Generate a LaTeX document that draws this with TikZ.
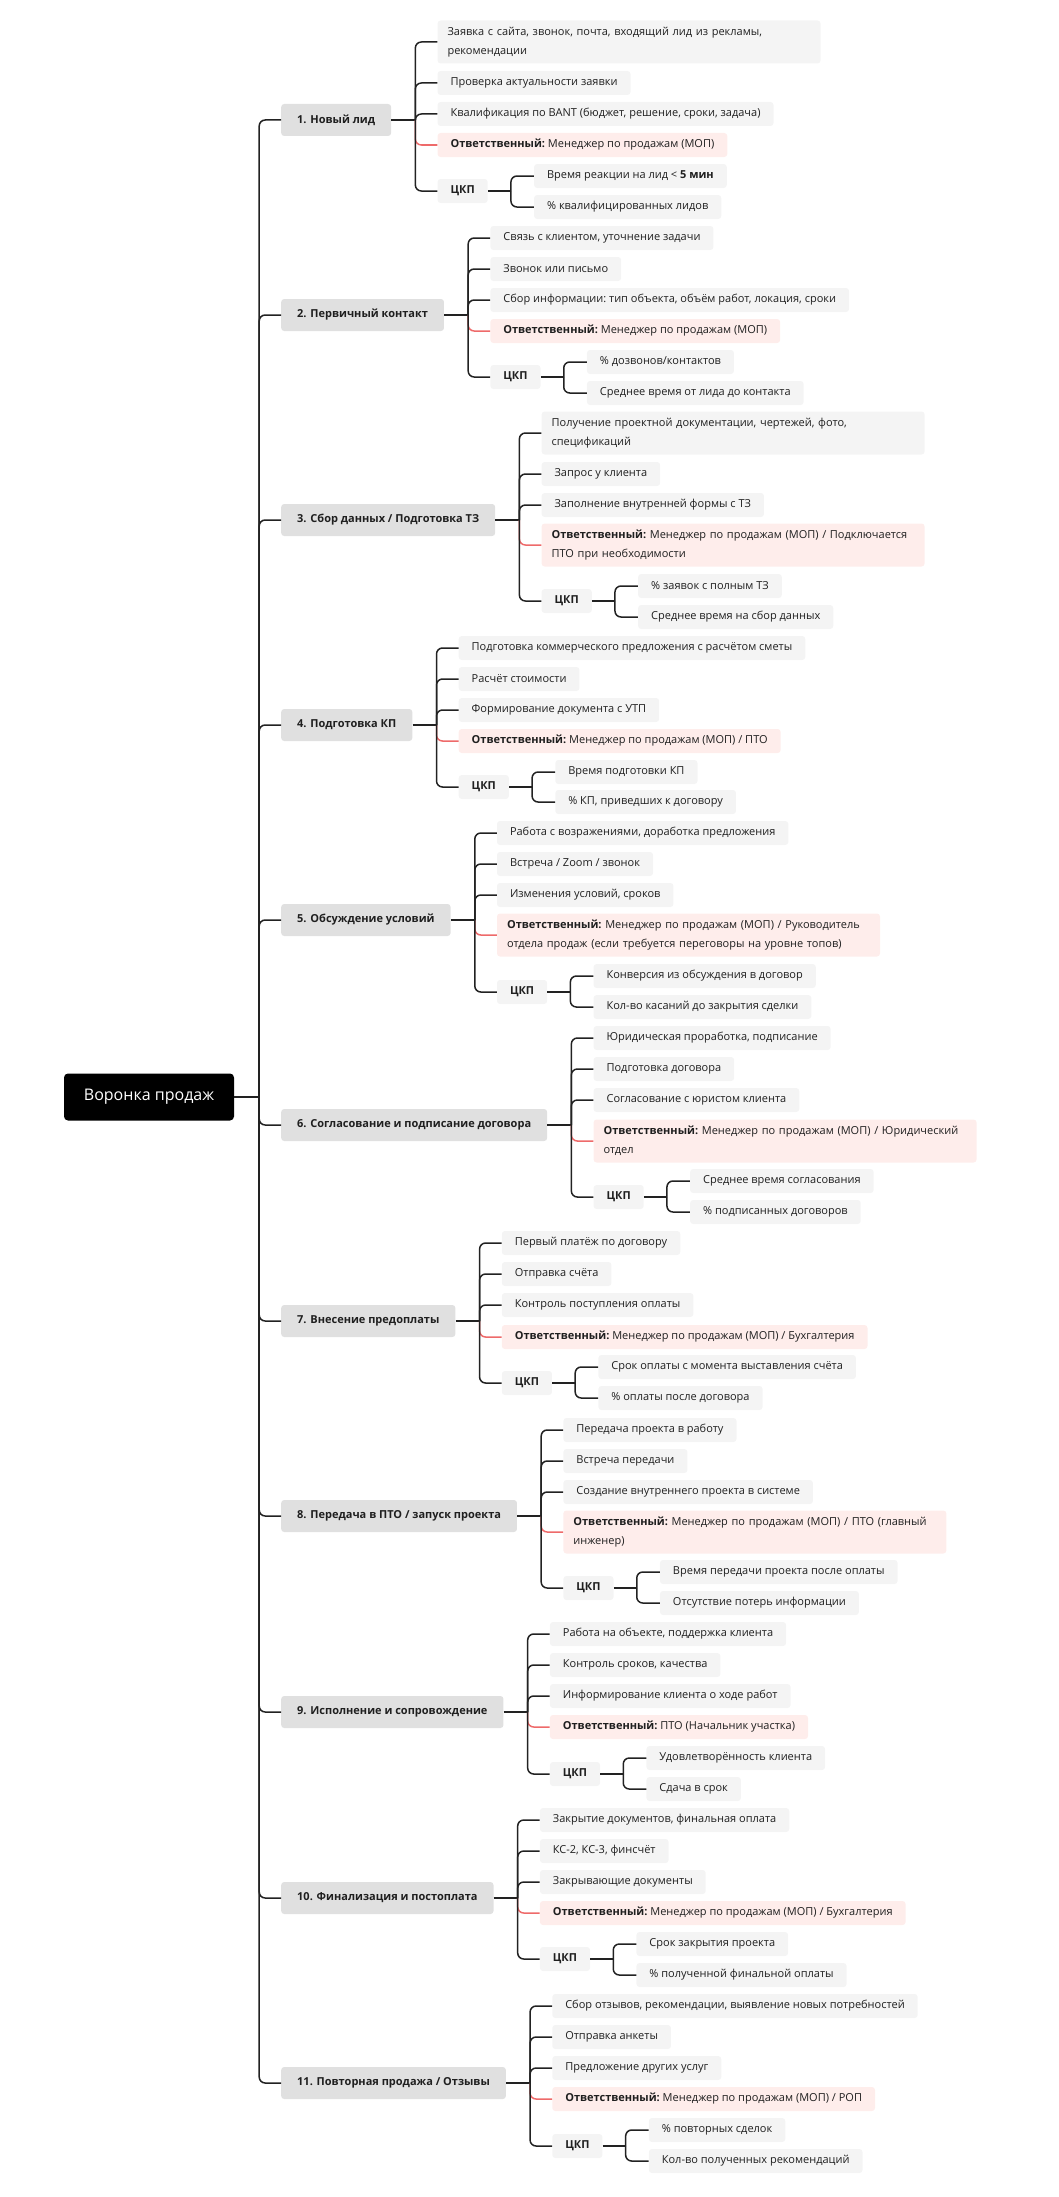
\documentclass[tikz,border=0pt]{standalone}
\usepackage{fontspec}
\setmainfont{Open Sans}
\usetikzlibrary{calc,positioning}
\definecolor{stagegray}{HTML}{E0E0E0}
\definecolor{leafgray}{HTML}{F4F4F4}
\definecolor{resppink}{HTML}{FEEDEB}
\definecolor{respred}{HTML}{EE6A6A}
\definecolor{linkgray}{HTML}{222222}
\tikzset{
    every node/.style={font=\fontsize{11}{19}\selectfont\frenchspacing, text=black!88},
    root node/.style={fill=black, text=white, rounded corners=4pt,
        minimum width=170pt, minimum height=47pt,
        font=\fontsize{16}{19}\selectfont},
    stage/.style={anchor=west, fill=stagegray, rounded corners=3pt,
        inner xsep=16pt, minimum height=32pt,
        font=\fontsize{11}{19}\selectfont\bfseries},
    leaf/.style={anchor=west, fill=leafgray, rounded corners=3pt,
        inner xsep=13pt, minimum height=24pt, align=left},
    wide/.style={text width=363pt, inner xsep=10pt, minimum height=43pt},
    resp/.style={leaf, fill=resppink},
    kpi/.style={leaf, font=\fontsize{11}{19}\selectfont\bfseries},
    link/.style={draw=linkgray, line width=1.5pt, rounded corners=6pt}
}

\begin{document}
\begin{tikzpicture}[x=1pt, y=-1pt]
    \useasboundingbox (0,0) rectangle (1058,2197);
    \node[root node] (root) at (149,1097) {Воронка продаж};

    % 1
    \node[stage] (s1) at (281,120) {1. Новый лид};
    \node[leaf, wide] (s1a) at ([xshift=46]s1.east |- 0,42) {Заявка с сайта, звонок, почта, входящий лид из рекламы,\\рекомендации};
    \node[leaf] (s1b) at ([xshift=46]s1.east |- 0,83) {Проверка актуальности заявки};
    \node[leaf] (s1c) at ([xshift=46]s1.east |- 0,114) {Квалификация по BANT (бюджет, решение, сроки, задача)};
    \node[resp] (s1r) at ([xshift=46]s1.east |- 0,145) {\textbf{Ответственный:} Менеджер по продажам (МОП)};
    \node[kpi] (s1k) at ([xshift=46]s1.east |- 0,191) {ЦКП};
    \node[leaf] (s1p) at ([xshift=46]s1k.east |- 0,176) {Время реакции на лид < \textbf{5 мин}};
    \node[leaf] (s1q) at ([xshift=46]s1k.east |- 0,207) {\% квалифицированных лидов};

    % 2
    \node[stage] (s2) at (281,315) {2. Первичный контакт};
    \node[leaf] (s2a) at ([xshift=46]s2.east |- 0,238) {Связь с клиентом, уточнение задачи};
    \node[leaf] (s2b) at ([xshift=46]s2.east |- 0,269) {Звонок или письмо};
    \node[leaf] (s2c) at ([xshift=46]s2.east |- 0,300) {Сбор информации: тип объекта, объём работ, локация, сроки};
    \node[resp] (s2r) at ([xshift=46]s2.east |- 0,331) {\textbf{Ответственный:} Менеджер по продажам (МОП)};
    \node[kpi] (s2k) at ([xshift=46]s2.east |- 0,377) {ЦКП};
    \node[leaf] (s2p) at ([xshift=46]s2k.east |- 0,362) {\% дозвонов/контактов};
    \node[leaf] (s2q) at ([xshift=46]s2k.east |- 0,393) {Среднее время от лида до контакта};

    % 3
    \node[stage] (s3) at (281,520) {3. Сбор данных / Подготовка ТЗ};
    \node[leaf, wide] (s3a) at ([xshift=46]s3.east |- 0,433) {Получение проектной документации, чертежей, фото,\\спецификаций};
    \node[leaf] (s3b) at ([xshift=46]s3.east |- 0,474) {Запрос у клиента};
    \node[leaf] (s3c) at ([xshift=46]s3.east |- 0,505) {Заполнение внутренней формы с ТЗ};
    \node[resp, wide] (s3r) at ([xshift=46]s3.east |- 0,545) {\textbf{Ответственный:} Менеджер по продажам (МОП) / Подключается\\ПТО при необходимости};
    \node[kpi] (s3k) at ([xshift=46]s3.east |- 0,601) {ЦКП};
    \node[leaf] (s3p) at ([xshift=46]s3k.east |- 0,586) {\% заявок с полным ТЗ};
    \node[leaf] (s3q) at ([xshift=46]s3k.east |- 0,617) {Среднее время на сбор данных};

    % 4
    \node[stage] (s4) at (281,725) {4. Подготовка КП};
    \node[leaf] (s4a) at ([xshift=46]s4.east |- 0,648) {Подготовка коммерческого предложения с расчётом сметы};
    \node[leaf] (s4b) at ([xshift=46]s4.east |- 0,679) {Расчёт стоимости};
    \node[leaf] (s4c) at ([xshift=46]s4.east |- 0,710) {Формирование документа с УТП};
    \node[resp] (s4r) at ([xshift=46]s4.east |- 0,741) {\textbf{Ответственный:} Менеджер по продажам (МОП) / ПТО};
    \node[kpi] (s4k) at ([xshift=46]s4.east |- 0,787) {ЦКП};
    \node[leaf] (s4p) at ([xshift=46]s4k.east |- 0,772) {Время подготовки КП};
    \node[leaf] (s4q) at ([xshift=46]s4k.east |- 0,802) {\% КП, приведших к договору};

    % 5
    \node[stage] (s5) at (281,920) {5. Обсуждение условий};
    \node[leaf] (s5a) at ([xshift=46]s5.east |- 0,833) {Работа с возражениями, доработка предложения};
    \node[leaf] (s5b) at ([xshift=46]s5.east |- 0,864) {Встреча / Zoom / звонок};
    \node[leaf] (s5c) at ([xshift=46]s5.east |- 0,895) {Изменения условий, сроков};
    \node[resp, wide] (s5r) at ([xshift=46]s5.east |- 0,935) {\textbf{Ответственный:} Менеджер по продажам (МОП) / Руководитель\\отдела продаж (если требуется переговоры на уровне топов)};
    \node[kpi] (s5k) at ([xshift=46]s5.east |- 0,992) {ЦКП};
    \node[leaf] (s5p) at ([xshift=46]s5k.east |- 0,976) {Конверсия из обсуждения в договор};
    \node[leaf] (s5q) at ([xshift=46]s5k.east |- 0,1007) {Кол-во касаний до закрытия сделки};

    % 6
    \node[stage] (s6) at (281,1125) {6. Согласование и подписание договора};
    \node[leaf] (s6a) at ([xshift=46]s6.east |- 0,1038) {Юридическая проработка, подписание};
    \node[leaf] (s6b) at ([xshift=46]s6.east |- 0,1069) {Подготовка договора};
    \node[leaf] (s6c) at ([xshift=46]s6.east |- 0,1100) {Согласование с юристом клиента};
    \node[resp, wide] (s6r) at ([xshift=46]s6.east |- 0,1141) {\textbf{Ответственный:} Менеджер по продажам (МОП) / Юридический\\отдел};
    \node[kpi] (s6k) at ([xshift=46]s6.east |- 0,1197) {ЦКП};
    \node[leaf] (s6p) at ([xshift=46]s6k.east |- 0,1181) {Среднее время согласования};
    \node[leaf] (s6q) at ([xshift=46]s6k.east |- 0,1212) {\% подписанных договоров};

    % 7
    \node[stage] (s7) at (281,1321) {7. Внесение предоплаты};
    \node[leaf] (s7a) at ([xshift=46]s7.east |- 0,1243) {Первый платёж по договору};
    \node[leaf] (s7b) at ([xshift=46]s7.east |- 0,1274) {Отправка счёта};
    \node[leaf] (s7c) at ([xshift=46]s7.east |- 0,1305) {Контроль поступления оплаты};
    \node[resp] (s7r) at ([xshift=46]s7.east |- 0,1337) {\textbf{Ответственный:} Менеджер по продажам (МОП) / Бухгалтерия};
    \node[kpi] (s7k) at ([xshift=46]s7.east |- 0,1383) {ЦКП};
    \node[leaf] (s7p) at ([xshift=46]s7k.east |- 0,1367) {Срок оплаты с момента выставления счёта};
    \node[leaf] (s7q) at ([xshift=46]s7k.east |- 0,1398) {\% оплаты после договора};

    % 8
    \node[stage] (s8) at (281,1516) {8. Передача в ПТО / запуск проекта};
    \node[leaf] (s8a) at ([xshift=46]s8.east |- 0,1430) {Передача проекта в работу};
    \node[leaf] (s8b) at ([xshift=46]s8.east |- 0,1461) {Встреча передачи};
    \node[leaf] (s8c) at ([xshift=46]s8.east |- 0,1492) {Создание внутреннего проекта в системе};
    \node[resp, wide] (s8r) at ([xshift=46]s8.east |- 0,1532) {\textbf{Ответственный:} Менеджер по продажам (МОП) / ПТО (главный\\инженер)};
    \node[kpi] (s8k) at ([xshift=46]s8.east |- 0,1588) {ЦКП};
    \node[leaf] (s8p) at ([xshift=46]s8k.east |- 0,1572) {Время передачи проекта после оплаты};
    \node[leaf] (s8q) at ([xshift=46]s8k.east |- 0,1603) {Отсутствие потерь информации};

    % 9
    \node[stage] (s9) at (281,1712) {9. Исполнение и сопровождение};
    \node[leaf] (s9a) at ([xshift=46]s9.east |- 0,1634) {Работа на объекте, поддержка клиента};
    \node[leaf] (s9b) at ([xshift=46]s9.east |- 0,1665) {Контроль сроков, качества};
    \node[leaf] (s9c) at ([xshift=46]s9.east |- 0,1696) {Информирование клиента о ходе работ};
    \node[resp] (s9r) at ([xshift=46]s9.east |- 0,1727) {\textbf{Ответственный:} ПТО (Начальник участка)};
    \node[kpi] (s9k) at ([xshift=46]s9.east |- 0,1774) {ЦКП};
    \node[leaf] (s9p) at ([xshift=46]s9k.east |- 0,1758) {Удовлетворённость клиента};
    \node[leaf] (s9q) at ([xshift=46]s9k.east |- 0,1789) {Сдача в срок};

    % 10
    \node[stage] (s10) at (281,1898) {10. Финализация и постоплата};
    \node[leaf] (s10a) at ([xshift=46]s10.east |- 0,1820) {Закрытие документов, финальная оплата};
    \node[leaf] (s10b) at ([xshift=46]s10.east |- 0,1851) {КС-2, КС-3, финсчёт};
    \node[leaf] (s10c) at ([xshift=46]s10.east |- 0,1882) {Закрывающие документы};
    \node[resp] (s10r) at ([xshift=46]s10.east |- 0,1913) {\textbf{Ответственный:} Менеджер по продажам (МОП) / Бухгалтерия};
    \node[kpi] (s10k) at ([xshift=46]s10.east |- 0,1959) {ЦКП};
    \node[leaf] (s10p) at ([xshift=46]s10k.east |- 0,1944) {Срок закрытия проекта};
    \node[leaf] (s10q) at ([xshift=46]s10k.east |- 0,1975) {\% полученной финальной оплаты};

    % 11
    \node[stage] (s11) at (281,2083) {11. Повторная продажа / Отзывы};
    \node[leaf] (s11a) at ([xshift=46]s11.east |- 0,2006) {Сбор отзывов, рекомендации, выявление новых потребностей};
    \node[leaf] (s11b) at ([xshift=46]s11.east |- 0,2037) {Отправка анкеты};
    \node[leaf] (s11c) at ([xshift=46]s11.east |- 0,2068) {Предложение других услуг};
    \node[resp] (s11r) at ([xshift=46]s11.east |- 0,2099) {\textbf{Ответственный:} Менеджер по продажам (МОП) / РОП};
    \node[kpi] (s11k) at ([xshift=46]s11.east |- 0,2146) {ЦКП};
    \node[leaf] (s11p) at ([xshift=46]s11k.east |- 0,2130) {\% повторных сделок};
    \node[leaf] (s11q) at ([xshift=46]s11k.east |- 0,2161) {Кол-во полученных рекомендаций};

    % connectors
    \draw[link] (root.east) -- ++(25,0);
    \foreach \i in {1,...,11} {
        \draw[link] ([xshift=25]root.east) |- (s\i.west);
        \draw[link] (s\i.east) -- ++(24,0);
        \draw[link, draw=respred] ([xshift=24]s\i.east) |- (s\i r.west);
        \foreach \c in {a,b,c,k}
            \draw[link] ([xshift=24]s\i.east) |- (s\i\c.west);
        \draw[link] (s\i k.east) -- ++(23,0);
        \foreach \c in {p,q}
            \draw[link] ([xshift=23]s\i k.east) |- (s\i\c.west);
    }
\end{tikzpicture}
\end{document}
